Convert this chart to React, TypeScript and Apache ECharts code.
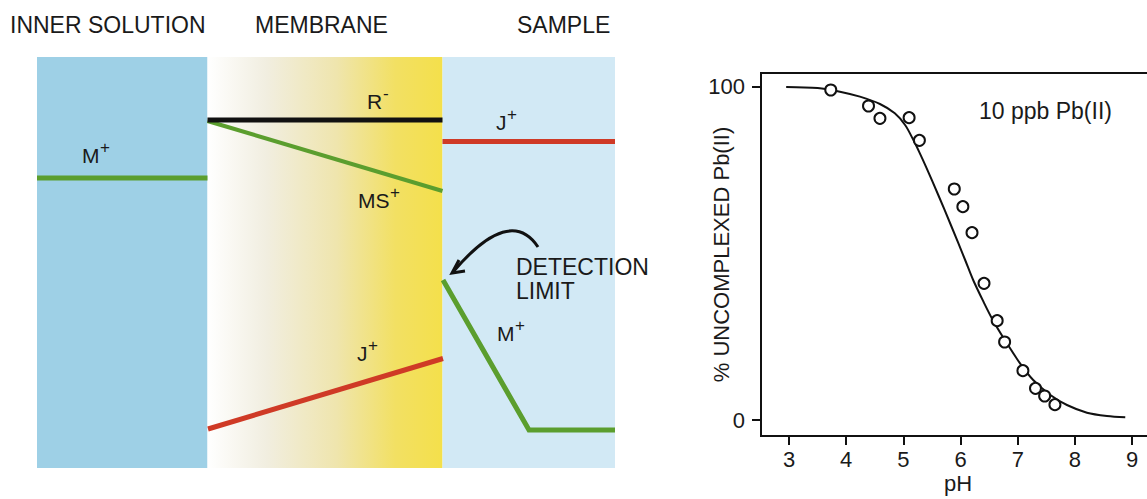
import React, { useEffect, useRef } from "react";
import * as echarts from "echarts";

// ---------- Right panel: % uncomplexed Pb(II) vs pH ----------
const phTicks = [3, 4, 5, 6, 7, 8, 9];
const pctTicks = [0, 100];
const measuredPoints: [number, number][] = [
  [3.73, 99.0], [4.39, 94.2], [4.59, 90.5], [5.10, 90.7], [5.28, 83.9],
  [5.89, 69.3], [6.04, 64.0], [6.20, 56.2], [6.41, 41.0], [6.64, 29.8],
  [6.77, 23.4], [7.09, 14.8], [7.31, 9.5], [7.47, 7.2], [7.65, 4.6],
];
const fittedCurve: [number, number][] = [
  [2.95, 99.9], [3.5, 99.6], [3.89, 98.5], [4.24, 97.0], [4.59, 94.8],
  [4.85, 92.0], [5.03, 88.5], [5.16, 84.5], [5.28, 80.3], [5.40, 75.8],
  [5.61, 67.5], [5.83, 58.5], [6.08, 48.0], [6.22, 42.0], [6.40, 35.5],
  [6.57, 29.8], [6.81, 23.0], [7.04, 17.0], [7.27, 12.0], [7.57, 7.5],
  [7.86, 4.5], [8.21, 2.2], [8.56, 1.2], [8.88, 0.8],
];

// ---------- Left panel: membrane schematic (diagram units) ----------
const innerRegion = [0, 170.5];
const membraneRegion = [170.5, 405.5];
const sampleRegion = [405.5, 578];
const innerM: [number, number][] = [[0, 121], [170.5, 121]];
const membraneR: [number, number][] = [[170.5, 63], [405.5, 63]];
const membraneMS: [number, number][] = [[170.5, 64], [405.5, 134]];
const sampleJ: [number, number][] = [[405.5, 84.5], [578, 84.5]];
const membraneJ: [number, number][] = [[171, 372], [406, 301.5]];
const sampleM: [number, number][] = [[406, 223], [492, 373], [578, 373]];

const FONT = "'Liberation Sans', Arial, Helvetica, sans-serif";
const INK = "#1a1a1a";
const GREEN = "#5b9e2e";
const RED = "#cf3a26";

function label(x: number, y: number, text: string, size: number) {
  return {
    type: "text",
    x,
    y,
    style: { text, fill: INK, fontSize: size, fontFamily: FONT, verticalAlign: "middle", align: "left" },
    z: 10,
  };
}

function species(x: number, y: number, base: string, sup: string, supDx: number) {
  return [
    label(x, y, base, 21),
    label(x + supDx, y - 8, sup, 17),
  ];
}

export default function App() {
  const ref = useRef<HTMLDivElement>(null);
  useEffect(() => {
    if (!ref.current) return;
    const chart = echarts.init(ref.current, undefined, { renderer: "svg" });

    const lineSeries = (data: [number, number][], color: string, width: number) => ({
      type: "line",
      xAxisIndex: 1,
      yAxisIndex: 1,
      data,
      showSymbol: false,
      symbol: "none",
      lineStyle: { color, width, cap: "butt", join: "miter" },
      z: 4,
      silent: true,
    });

    const option: any = {
      animation: false,
      backgroundColor: "#ffffff",
      grid: [
        { left: 761, top: 73, width: 394, height: 363, show: true, borderColor: "#111", borderWidth: 2, backgroundColor: "transparent" },
        { left: 37, top: 57, width: 578, height: 411, show: false },
      ],
      xAxis: [
        {
          type: "value",
          gridIndex: 0,
          min: 2.51,
          max: 9.4,
          name: "pH",
          nameLocation: "middle",
          nameGap: 36,
          nameMoveOverlap: false,
          nameTextStyle: { fontSize: 22, color: INK, fontFamily: FONT },
          axisLine: { show: true, onZero: false, lineStyle: { color: "#111", width: 2 } },
          axisTick: { show: true, inside: false, length: 9, customValues: phTicks, lineStyle: { color: "#111", width: 2 } },
          axisLabel: { customValues: phTicks, fontSize: 22, color: INK, fontFamily: FONT, margin: 12 },
          splitLine: { show: false },
        },
        { type: "value", gridIndex: 1, min: 0, max: 578, show: false },
      ],
      yAxis: [
        {
          type: "value",
          gridIndex: 0,
          min: -4.8,
          max: 104.1,
          name: "% UNCOMPLEXED Pb(II)",
          nameLocation: "middle",
          nameRotate: 90,
          nameGap: 29,
          nameMoveOverlap: false,
          nameTextStyle: { fontSize: 22, color: INK, fontFamily: FONT },
          axisLine: { show: true, onZero: false, lineStyle: { color: "#111", width: 2 } },
          axisTick: { show: true, inside: false, length: 9, customValues: pctTicks, lineStyle: { color: "#111", width: 2 } },
          axisLabel: { customValues: pctTicks, fontSize: 22, color: INK, fontFamily: FONT, margin: 16 },
          splitLine: { show: false },
        },
        { type: "value", gridIndex: 1, min: 0, max: 411, inverse: true, show: false },
      ],
      series: [
        {
          type: "line",
          xAxisIndex: 0,
          yAxisIndex: 0,
          data: fittedCurve,
          smooth: 0.3,
          showSymbol: false,
          symbol: "none",
          lineStyle: { color: "#111", width: 2 },
          z: 2,
          silent: true,
        },
        {
          type: "scatter",
          xAxisIndex: 0,
          yAxisIndex: 0,
          data: measuredPoints,
          symbol: "circle",
          symbolSize: 11,
          itemStyle: { color: "#ffffff", borderColor: "#111", borderWidth: 2, opacity: 1 },
          z: 3,
          silent: true,
        },
        {
          type: "line",
          xAxisIndex: 1,
          yAxisIndex: 1,
          data: [],
          z: 1,
          silent: true,
          markArea: {
            silent: true,
            data: [
              [{ xAxis: innerRegion[0], yAxis: 0, itemStyle: { color: "#9ed0e6" } }, { xAxis: innerRegion[1], yAxis: 411 }],
              [
                {
                  xAxis: membraneRegion[0],
                  yAxis: 0,
                  itemStyle: {
                    color: new echarts.graphic.LinearGradient(0, 0, 1, 0, [
                      { offset: 0, color: "#ffffff" },
                      { offset: 0.25, color: "#f1eee0" },
                      { offset: 0.55, color: "#efe5ad" },
                      { offset: 0.8, color: "#f2e063" },
                      { offset: 1, color: "#f4e04b" },
                    ]),
                  },
                },
                { xAxis: membraneRegion[1], yAxis: 411 },
              ],
              [{ xAxis: sampleRegion[0], yAxis: 0, itemStyle: { color: "#d2e9f5" } }, { xAxis: sampleRegion[1], yAxis: 411 }],
            ],
          },
        },
        lineSeries(innerM, GREEN, 5),
        lineSeries(membraneMS, GREEN, 4),
        lineSeries(membraneR, "#111111", 5),
        lineSeries(sampleJ, RED, 5),
        lineSeries(membraneJ, RED, 5),
        lineSeries(sampleM, GREEN, 5),
      ],
      graphic: [
        label(10, 25, "INNER SOLUTION", 23),
        label(255, 25, "MEMBRANE", 23),
        label(517, 25, "SAMPLE", 23),
        ...species(367, 101, "R", "-", 16),
        ...species(496, 122, "J", "+", 11),
        ...species(82, 155, "M", "+", 18),
        ...species(358, 200, "MS", "+", 32),
        ...species(497, 333, "M", "+", 18),
        ...species(357, 353, "J", "+", 11),
        label(516, 267, "DETECTION", 23),
        label(516, 291, "LIMIT", 23),
        label(979, 111, "10 ppb Pb(II)", 23),
        {
          type: "bezierCurve",
          shape: { x1: 538, y1: 247, cpx1: 510, cpy1: 205, x2: 453, y2: 272 },
          style: { stroke: "#111", lineWidth: 3, fill: "none" },
          z: 10,
        },
        {
          type: "polyline",
          shape: { points: [[459, 260], [452, 273], [465, 271]] },
          style: { stroke: "#111", lineWidth: 3, fill: "none" },
          z: 10,
        },
      ],
    };
    chart.setOption(option);
    return () => chart.dispose();
  }, []);
  return (
    <div style={{ position: "fixed", left: 0, top: 0, width: 1147, height: 499, overflow: "hidden", background: "#fff" }}>
      <div ref={ref} style={{ width: 1170, height: 499 }} />
    </div>
  );
}
